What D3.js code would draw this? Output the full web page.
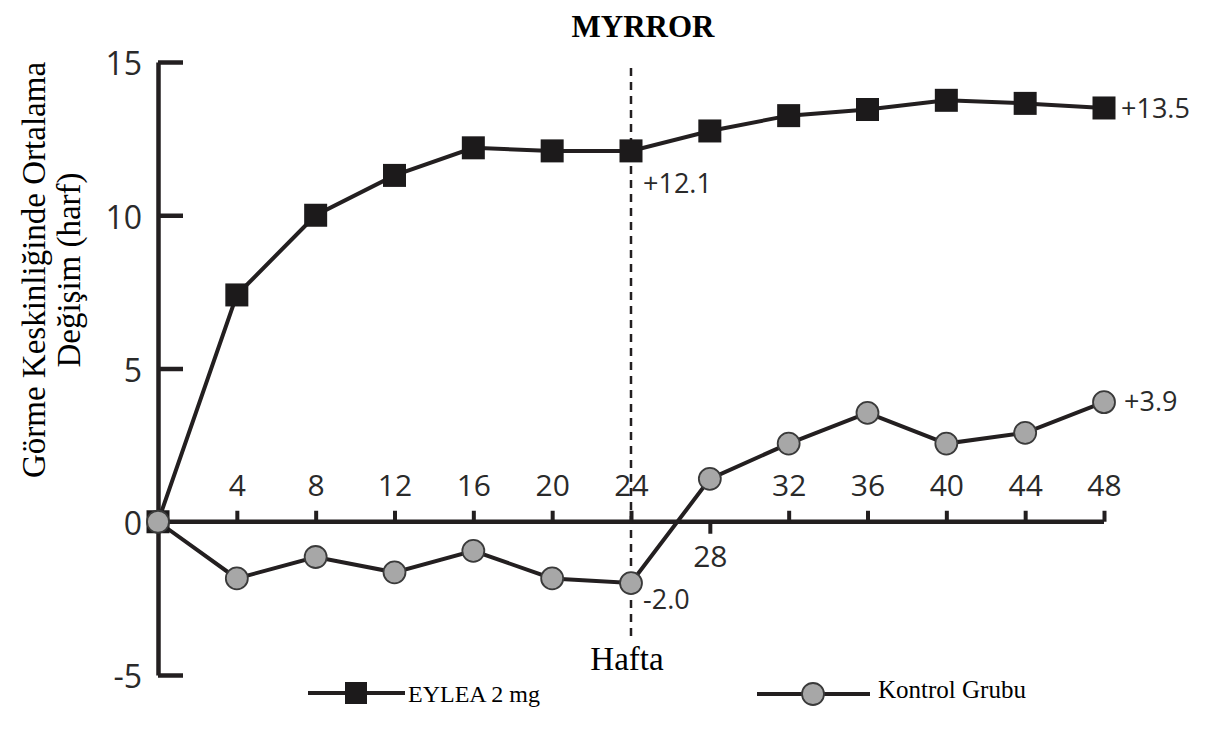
<!DOCTYPE html>
<html>
<head>
<meta charset="utf-8">
<script src="https://cdn.jsdelivr.net/npm/d3@7"></script>
<style>
  html, body { margin: 0; padding: 0; background: #fff; }
  svg { display: block; }
</style>
</head>
<body>
<svg id="chart" width="1211" height="744"></svg>
<script>
// ---- data ----
const weeks   = [0, 4, 8, 12, 16, 20, 24, 28, 32, 36, 40, 44, 48];
const eylea   = [0, 7.4, 10.0, 11.3, 12.2, 12.1, 12.1, 12.75, 13.25, 13.45, 13.75, 13.65, 13.5];
const kontrol = [0, -1.85, -1.15, -1.65, -0.95, -1.85, -2.0, 1.4, 2.55, 3.55, 2.55, 2.9, 3.9];
const xTicks  = [4, 8, 12, 16, 20, 24, 28, 32, 36, 40, 44, 48];
const yTicks  = [-5, 0, 5, 10, 15];
const endLabels = [
  { series: "eylea", week: 48, text: "+13.5" },
  { series: "eylea", week: 24, text: "+12.1" },
  { series: "kontrol", week: 24, text: "-2.0" },
  { series: "kontrol", week: 48, text: "+3.9" }
];
const title = "MYRROR";
const yTitle = ["Görme Keskinliğinde Ortalama", "Değişim (harf)"];
const xTitle = "Hafta";
const legendNames = ["EYLEA 2 mg", "Kontrol Grubu"];

// ---- setup ----
const svg = d3.select("#chart");
const ink = "#231f20";
const sans = "Open Sans";
const serif = "Liberation Serif";

const x = d3.scaleLinear().domain([0, 48]).range([158, 1104]);
const y = d3.scaleLinear().domain([-5, 15]).range([675, 62]);

// title
svg.append("text").attr("x", 643).attr("y", 37).attr("text-anchor", "middle")
  .style("font-family", serif).attr("font-weight", "bold").attr("font-size", 31)
  .attr("fill", "#000").text(title);

// y axis title
const yt = svg.append("text").attr("transform", "translate(0,270) rotate(-90)")
  .style("font-family", serif).attr("font-size", 33).attr("fill", "#000")
  .attr("text-anchor", "middle");
yt.append("tspan").attr("x", 0).attr("y", 45).text(yTitle[0]);
yt.append("tspan").attr("x", 0).attr("y", 80).text(yTitle[1]);

// y axis
const yAxis = svg.append("g").attr("transform", `translate(${x(0)},0)`)
  .call(d3.axisLeft(y).tickValues(yTicks).tickSizeInner(-25).tickSizeOuter(0)
        .tickFormat(d => String(d)));
yAxis.select(".domain").attr("stroke", ink).attr("stroke-width", 4.5);
yAxis.selectAll(".tick line").attr("stroke", ink).attr("stroke-width", 4.5)
  .attr("display", d => d === 0 ? "none" : null);
yAxis.selectAll(".tick text").attr("x", -16).attr("dy", "0.4em")
  .style("font-family", sans).attr("font-size", 32).attr("fill", "#2a2a2a");

// x axis at y=0
const xAxis = svg.append("g").attr("transform", `translate(0,${y(0)})`)
  .call(d3.axisBottom(x).tickValues(xTicks).tickSizeInner(-11).tickSizeOuter(0)
        .tickFormat(d => String(d)));
xAxis.select(".domain").attr("stroke", ink).attr("stroke-width", 4.5)
  .attr("d", `M${x(0)},0H${x(48)}`);
xAxis.selectAll(".tick line").attr("stroke", ink).attr("stroke-width", 4)
  .attr("y2", d => d === 28 ? 12 : -11);
xAxis.selectAll(".tick text")
  .attr("y", d => d === 28 ? 45 : -26).attr("dy", 0)
  .style("font-family", sans).attr("font-size", 30).attr("fill", "#2a2a2a");

// dashed vertical at week 24
svg.append("line").attr("x1", x(24)).attr("x2", x(24)).attr("y1", 68).attr("y2", 640)
  .attr("stroke", ink).attr("stroke-width", 2.5).attr("stroke-dasharray", "8,6");

// x title
svg.append("text").attr("x", 627).attr("y", 670).attr("text-anchor", "middle")
  .style("font-family", serif).attr("font-size", 33).attr("fill", "#000").text(xTitle);

// lines
const eyData = weeks.map((w, i) => ({ w, v: eylea[i] }));
const koData = weeks.map((w, i) => ({ w, v: kontrol[i] }));
const line = d3.line().x(d => x(d.w)).y(d => y(d.v));
svg.append("path").datum(eyData).attr("d", line).attr("fill", "none")
  .attr("stroke", ink).attr("stroke-width", 4);
svg.append("path").datum(koData).attr("d", line).attr("fill", "none")
  .attr("stroke", ink).attr("stroke-width", 4);

const sq = 23;
svg.append("g").selectAll("rect").data(eyData).join("rect")
  .attr("x", d => x(d.w) - sq / 2).attr("y", d => y(d.v) - sq / 2)
  .attr("width", sq).attr("height", sq).attr("fill", "#1c1a1b");
svg.append("g").selectAll("circle").data(koData).join("circle")
  .attr("cx", d => x(d.w)).attr("cy", d => y(d.v)).attr("r", 11)
  .attr("fill", "#a7a7a7").attr("stroke", "#3a3a3a").attr("stroke-width", 1.8);

// value labels
const lookup = { eylea: eylea, kontrol: kontrol };
const offsets = {
  "+13.5": [17, 0], "+12.1": [12, 32], "-2.0": [12, 16], "+3.9": [20, -1]
};
svg.append("g").selectAll("text").data(endLabels).join("text")
  .attr("x", d => x(d.week) + offsets[d.text][0])
  .attr("y", d => y(lookup[d.series][weeks.indexOf(d.week)]) + offsets[d.text][1])
  .attr("dy", "0.36em")
  .style("font-family", sans).attr("font-size", 27).attr("fill", "#2a2a2a")
  .text(d => d.text);

// legend
const lg = svg.append("g");
lg.append("line").attr("x1", 308).attr("x2", 405).attr("y1", 693).attr("y2", 693)
  .attr("stroke", ink).attr("stroke-width", 4);
lg.append("rect").attr("x", 356 - 11).attr("y", 693 - 11).attr("width", 22).attr("height", 22)
  .attr("fill", "#1c1a1b");
lg.append("text").attr("x", 408).attr("y", 702).style("font-family", serif)
  .attr("font-size", 24).attr("fill", "#000").text(legendNames[0]);
lg.append("line").attr("x1", 757).attr("x2", 870).attr("y1", 694).attr("y2", 694)
  .attr("stroke", ink).attr("stroke-width", 4);
lg.append("circle").attr("cx", 813).attr("cy", 694).attr("r", 11)
  .attr("fill", "#a7a7a7").attr("stroke", "#3a3a3a").attr("stroke-width", 1.8);
lg.append("text").attr("x", 878).attr("y", 698).style("font-family", serif)
  .attr("font-size", 25).attr("fill", "#000").text(legendNames[1]);
</script>
</body>
</html>
